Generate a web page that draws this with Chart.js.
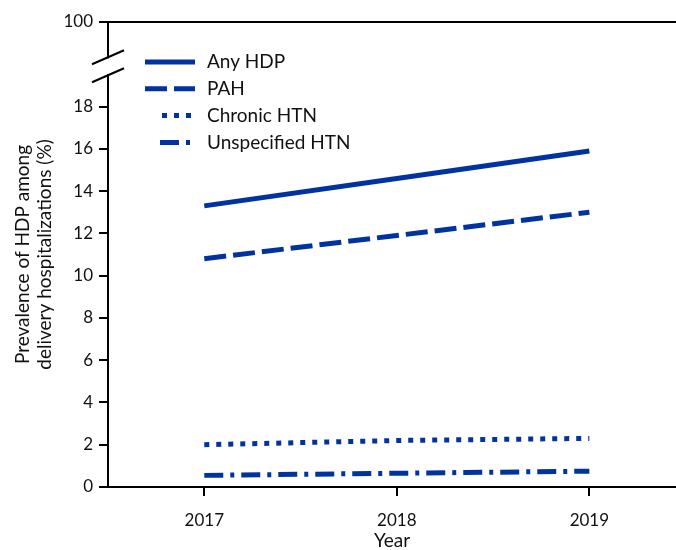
<!DOCTYPE html>
<html>
<head>
<meta charset="utf-8">
<script src="https://cdn.jsdelivr.net/npm/chart.js@4"></script>
<style>
  body { margin: 0; background: #fff; }
  #wrap { width: 676px; height: 550px; }
</style>
</head>
<body>
<div id="wrap"><canvas id="myChart"></canvas></div>
<script>
"use strict";

const years = [2017, 2018, 2019];
const anyHdp = [13.3, 14.6, 15.9];
const pah = [10.8, 11.9, 13.0];
const chronicHtn = [2.0, 2.2, 2.3];
const unspecifiedHtn = [0.55, 0.65, 0.75];
const seriesNames = ["Any HDP", "PAH", "Chronic HTN", "Unspecified HTN"];
const yTicks = [0, 2, 4, 6, 8, 10, 12, 14, 16, 18];
const breakTop = 22; // axis position standing in for 100
const breakLabel = "100";

const blue = "#0033a0";
const fontFamily = "Lato, 'Open Sans', sans-serif";

function pts(vals) {
   return vals.map((v, i) => ({ x: years[i], y: v }));
}

const dashes = [[], [22, 7], [5, 7], [19, 7, 4, 7]];
const allSeries = [anyHdp, pah, chronicHtn, unspecifiedHtn];

const datasets = allSeries.map((vals, i) => ({
   label: seriesNames[i],
   data: pts(vals),
   borderColor: blue,
   backgroundColor: blue,
   borderWidth: 5,
   borderDash: dashes[i],
   borderCapStyle: "butt",
   pointRadius: 0,
   tension: 0,
}));

// axis break, top line and the legend
const extras = {
   id: "extras",
   afterDraw(chart) {
      const c = chart.ctx;
      const a = chart.chartArea;
      const ys = chart.scales.y;
      c.save();
      c.strokeStyle = "#000";
      c.lineWidth = 2;
      c.beginPath();
      c.moveTo(a.left, a.top);
      c.lineTo(a.right, a.top);
      c.stroke();

      // break
      const yb = (ys.getPixelForValue(18) + ys.getPixelForValue(breakTop)) / 2 + 2;
      c.fillStyle = "#fff";
      c.fillRect(a.left - 3, yb - 8, 6, 16);
      c.beginPath();
      c.moveTo(a.left - 16, yb - 2);
      c.lineTo(a.left + 16, yb - 16);
      c.moveTo(a.left - 16, yb + 16);
      c.lineTo(a.left + 16, yb + 2);
      c.stroke();

      // legend
      c.font = "19px " + fontFamily;
      c.textBaseline = "middle";
      c.fillStyle = "#111";
      const starts = [145, 145, 162, 160];
      seriesNames.forEach((name, i) => {
         const y = 62 + i * 26.8;
         c.strokeStyle = blue;
         c.lineWidth = 5;
         c.lineCap = "butt";
         c.setLineDash(dashes[i]);
         c.beginPath();
         c.moveTo(starts[i], y);
         c.lineTo(195, y);
         c.stroke();
         c.setLineDash([]);
         c.fillText(name, 207, y);
      });
      c.restore();
   },
};

const ctx = document.getElementById("myChart").getContext("2d");
const myChart = new Chart(ctx, {
   type: "line",
   data: { datasets: datasets },
   options: {
      responsive: true,
      maintainAspectRatio: false,
      animation: false,
      layout: { padding: { top: 22, right: 0, left: 12, bottom: 0 } },
      plugins: { legend: { display: false }, tooltip: { enabled: false } },
      scales: {
         x: {
            type: "linear",
            min: 2016.5,
            max: 2019.45,
            afterBuildTicks(axis) {
               axis.ticks = years.map((v) => ({ value: v }));
            },
            afterFit(axis) {
               axis.height = 63;
            },
            ticks: {
               color: "#111",
               font: { family: fontFamily, size: 17 },
               padding: 14,
               callback: (v) => String(v),
            },
            grid: {
               drawOnChartArea: false,
               drawTicks: true,
               tickLength: 9,
               color: "#000",
               lineWidth: 2,
            },
            border: { color: "#000", width: 2 },
            title: {
               display: true,
               text: "Year",
               color: "#111",
               font: { family: fontFamily, size: 19, lineHeight: 1.0 },
               padding: { top: 0, bottom: 0 },
            },
         },
         y: {
            min: 0,
            max: breakTop,
            afterBuildTicks(axis) {
               axis.ticks = yTicks.concat([breakTop]).map((v) => ({ value: v }));
            },
            afterFit(axis) {
               axis.width = 96;
            },
            ticks: {
               color: "#111",
               font: { family: fontFamily, size: 17 },
               padding: 6,
               callback: (v) => (v === breakTop ? breakLabel : String(v)),
            },
            grid: {
               drawOnChartArea: false,
               drawTicks: true,
               tickLength: 9,
               color: "#000",
               lineWidth: 2,
            },
            border: { color: "#000", width: 2 },
            title: {
               display: true,
               text: ["Prevalence of HDP among", "delivery hospitalizations (%)"],
               color: "#111",
               font: { family: fontFamily, size: 19, lineHeight: 1.15 },
               padding: { top: 0, bottom: 4 },
            },
         },
      },
   },
   plugins: [extras],
});
</script>
</body>
</html>
